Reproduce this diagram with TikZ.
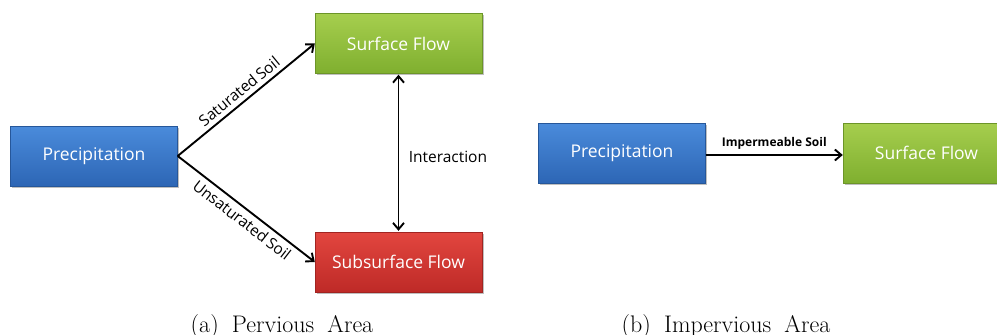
\documentclass[tikz,border=0pt]{standalone}
\usepackage{fontspec}
\newfontfamily\boxfont{Open Sans}
\usetikzlibrary{arrows.meta,shadows}
\definecolor{bluetop}{HTML}{4A8BDB}
\definecolor{bluebot}{HTML}{2D66B5}
\definecolor{greentop}{HTML}{A6CE4E}
\definecolor{greenbot}{HTML}{7FAF2F}
\definecolor{redtop}{HTML}{E2463F}
\definecolor{redbot}{HTML}{BE2A27}
\tikzset{
  flowbox/.style={draw=#1bot!85!black, line width=0.4pt, minimum width=167pt, minimum height=60pt,
    top color=#1top, bottom color=#1bot, text=white, inner sep=0pt,
    font=\boxfont\fontsize{17.5}{20}\selectfont,
    drop shadow={shadow xshift=1.5pt, shadow yshift=-1.5pt, fill=black, opacity=0.25}},
  flowarrow/.style={line width=1.9pt, -{Straight Barb[length=6.5pt,width=11pt,line width=1.9pt]}},
  biarrow/.style={line width=1.9pt, {Straight Barb[length=6.5pt,width=11pt,line width=1.9pt]}-{Straight Barb[length=6.5pt,width=11pt,line width=1.9pt]}},
  edgelabel/.style={font=\boxfont\fontsize{15.5}{18}\selectfont, text=black},
  caption/.style={font=\fontsize{24}{28}\selectfont, anchor=base}
}
\begin{document}
\begin{tikzpicture}[x=1pt,y=-1pt]
\useasboundingbox (0,0) rectangle (997,335);
\clip (0,0) rectangle (997,335);
% (a) Pervious area
\node[flowbox=blue]  (prec)  at (94,156)  {Precipitation};
\node[flowbox=green] (surf)  at (398.5,43.5) {Surface Flow};
\node[flowbox=red]   (sub)   at (398.5,262) {Subsurface Flow};
\draw[flowarrow] (prec.east) -- node[edgelabel, sloped, above, pos=0.5, yshift=1pt] {Saturated\hspace{0.2em}Soil} (surf.west);
\draw[flowarrow] (prec.east) -- node[edgelabel, sloped, below, pos=0.52, yshift=-1pt] {Unsaturated\hspace{0.2em}Soil} (sub.west);
\draw[biarrow] ([yshift=-1pt]surf.south) -- node[edgelabel, right, xshift=6pt, yshift=-4pt] {Interaction} ([yshift=1pt]sub.north);
\node[caption] (capa) at (282,332) {(a)\hspace{0.55em}Pervious\hspace{0.55em}Area};
% (b) Impervious area
\node[flowbox=blue]  (prec2) at (622,153) {Precipitation};
\node[flowbox=green] (surf2) at (926.5,153) {Surface Flow};
\draw[flowarrow] ([yshift=-2pt]prec2.east) -- node[edgelabel, above, yshift=1pt, font=\boxfont\bfseries\fontsize{12}{14}\selectfont] {Impermeable Soil} ([yshift=-2pt]surf2.west);
\node[caption] (capb) at (726,332) {(b)\hspace{0.55em}Impervious\hspace{0.55em}Area};
\end{tikzpicture}
\end{document}
